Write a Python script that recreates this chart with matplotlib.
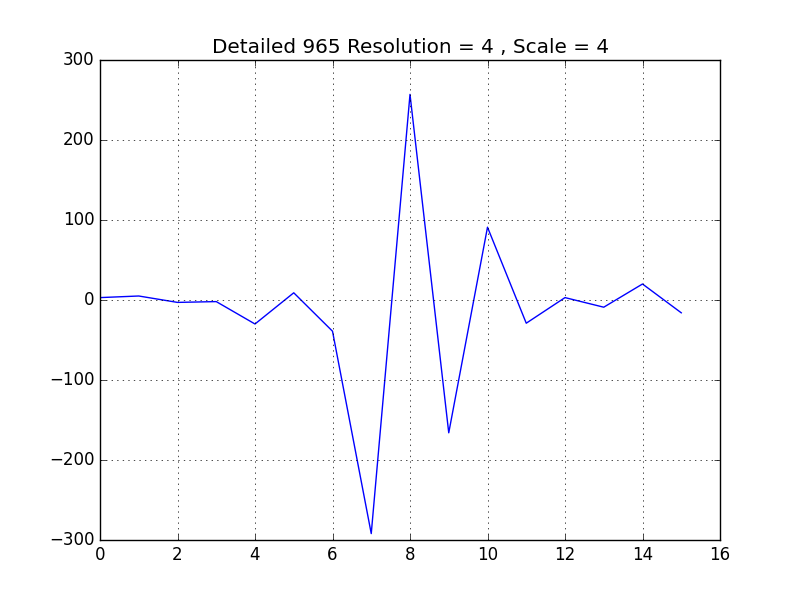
import matplotlib

matplotlib.use("Agg")
import matplotlib.pyplot as plt

plt.style.use("classic")

# detail coefficients
x_vals = list(range(16))
detail = [3, 5, -3, -2, -30, 9, -39, -292, 257, -166, 91, -29, 3, -9, 20, -16]

fig = plt.figure(figsize=(8, 6), dpi=100, facecolor="white")
ax = fig.add_subplot(111)
ax.plot(x_vals, detail, color="b")
ax.set_xlim(0, 16)
ax.set_ylim(-300, 300)
ax.grid(True)
ax.set_title("Detailed 965 Resolution = 4 , Scale = 4")
fig.savefig("out.png", dpi=100, facecolor="white")
